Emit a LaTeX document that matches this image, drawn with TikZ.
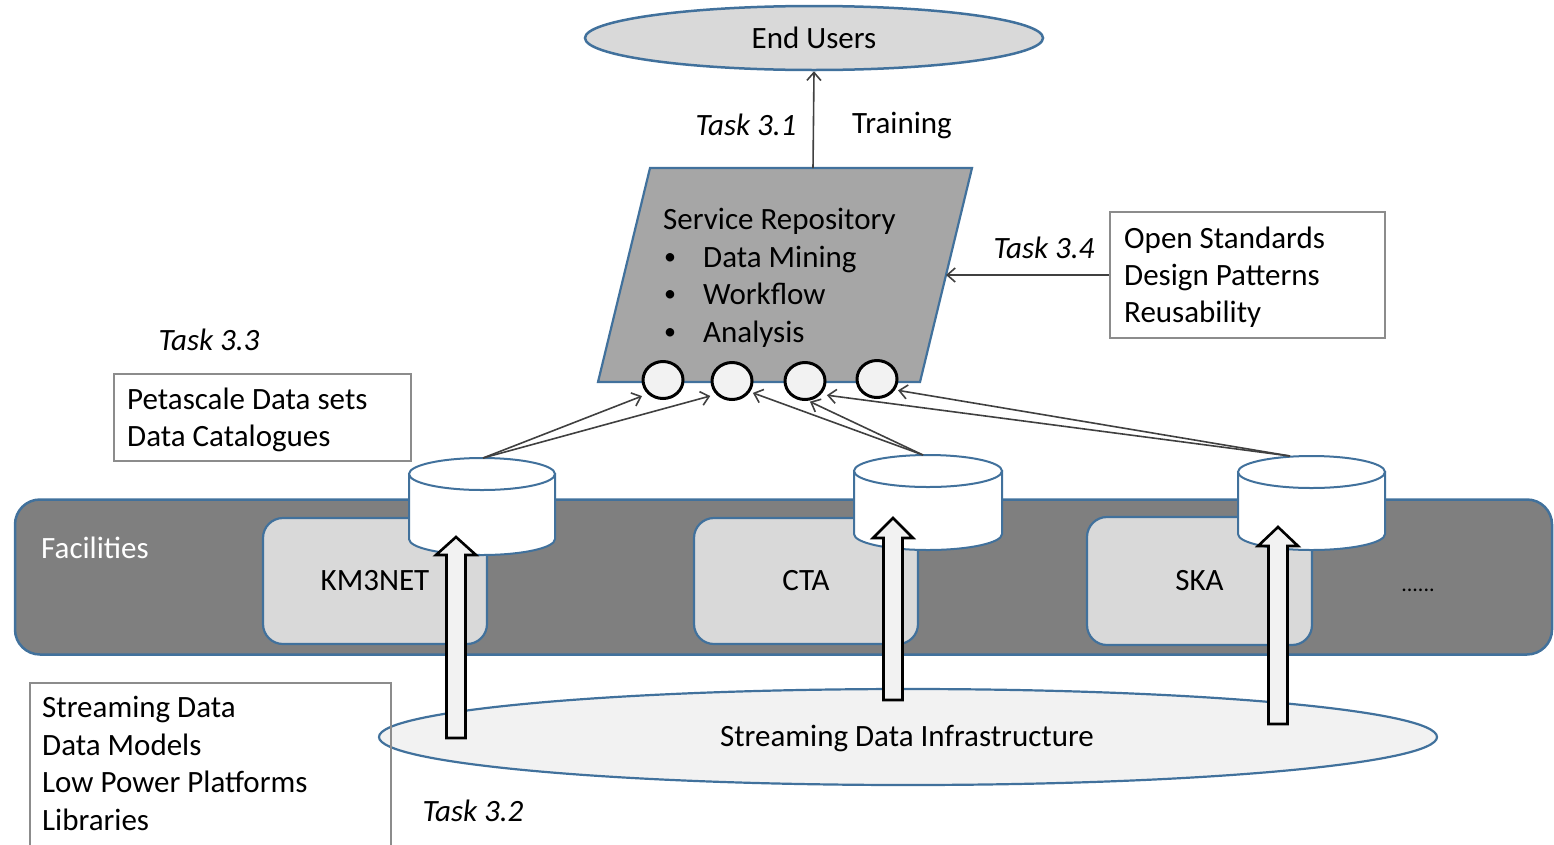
\documentclass[tikz,border=0pt]{standalone}
\usepackage{fontspec}
\setmainfont{Carlito}
\usetikzlibrary{shapes.geometric,arrows.meta}
\definecolor{bord}{RGB}{65,113,156}
\definecolor{lgray}{RGB}{217,217,217}
\definecolor{pgray}{RGB}{166,166,166}
\definecolor{bgray}{RGB}{127,127,127}
\definecolor{wgray}{RGB}{242,242,242}
\definecolor{boxline}{RGB}{140,140,140}
\definecolor{arrline}{RGB}{64,64,64}
\begin{document}
\begin{tikzpicture}[x=1pt,y=-1pt,
  font=\fontsize{31}{37}\selectfont,
  line/.style={anchor=mid west, inner sep=0pt},
  task/.style={inner sep=0pt, font=\fontsize{31}{37}\selectfont\itshape},
  bul/.style={inner sep=0pt, font=\fontsize{24}{28}\selectfont},
  thinarr/.style={draw=arrline, line width=1.6pt, -{Straight Barb[length=8pt,width=14pt]}},
  txtbox/.style={draw=boxline, line width=1.6pt, fill=white, inner sep=0pt},
  inner/.style={draw=bord, fill=lgray, line width=2.2pt, rounded corners=20pt, inner sep=0pt},
  cyl/.style={draw=bord, fill=white, line width=2pt},
  blk/.style={draw=black, fill=wgray, line width=2.6pt, line join=miter},
  port/.style={ellipse, draw=black, fill=wgray, line width=3pt, minimum width=40pt, minimum height=37pt, inner sep=0pt}
]
\useasboundingbox (0,0) rectangle (1554,844);

% Facilities band
\node[draw=bord, fill=bgray, line width=2.5pt, rounded corners=25pt, minimum width=1537pt, minimum height=155pt, inner sep=0pt] (band) at (783.5,577) {};
\node[text=white, inner sep=0pt] (fac) at (95,548) {Facilities};
\node[inner, minimum width=224pt, minimum height=126pt] (km) at (375,581) {KM3NET};
\node[inner, minimum width=224pt, minimum height=126pt] (cta) at (806,581) {CTA};
\node[inner, minimum width=225pt, minimum height=128pt] (ska) at (1199.5,581) {SKA};
\node[inner sep=0pt, font=\fontsize{22}{26}\selectfont] (dots) at (1418,590) {......};

% Streaming Data Infrastructure
\node[ellipse, draw=bord, fill=wgray, line width=2.2pt, minimum width=1058pt, minimum height=96pt, inner sep=0pt] (sdi) at (908,737) {};
\node[inner sep=0pt] (sdit) at (907,738) {Streaming Data Infrastructure};

% Cylinders
\path[cyl] (409,474) -- (409,539) arc[start angle=180, end angle=360, x radius=73pt, y radius=16pt] -- (555,474) -- cycle;
\draw[cyl] (482,474) ellipse[x radius=73pt, y radius=16pt];
\coordinate (kmtop) at (483,458);
\path[cyl] (854,471) -- (854,534) arc[start angle=180, end angle=360, x radius=74pt, y radius=16pt] -- (1002,471) -- cycle;
\draw[cyl] (928,471) ellipse[x radius=74pt, y radius=16pt];
\coordinate (ctatop) at (923,455);
\path[cyl] (1238,472) -- (1238,534) arc[start angle=180, end angle=360, x radius=73.5pt, y radius=16pt] -- (1385,472) -- cycle;
\draw[cyl] (1311.5,472) ellipse[x radius=73.5pt, y radius=16pt];
\coordinate (skatop) at (1290,456);

% Block arrows
\draw[blk] (446.5,738) -- (446.5,555) -- (436,555) -- (456,537) -- (476,555) -- (465.5,555) -- (465.5,738) -- cycle;
\draw[blk] (883.5,700) -- (883.5,538) -- (873,538) -- (893,518) -- (913,538) -- (902.5,538) -- (902.5,700) -- cycle;
\draw[blk] (1268.5,724) -- (1268.5,546) -- (1258,546) -- (1278,527) -- (1298,546) -- (1287.5,546) -- (1287.5,724) -- cycle;

% Service repository parallelogram
\draw[draw=bord, fill=pgray, line width=2.2pt] (650,168) coordinate (p1) -- (972,168) coordinate (p2) -- (920,382) coordinate (p3) -- (598,382) coordinate (p4) -- cycle;
\coordinate (ptop) at (813,168);
\coordinate (pright) at (946,275);
\node[line] (sr) at (663,227) {Service Repository};
\node[bul] (b1) at (670,259) {•};
\node[line] (dm) at (703,265) {Data Mining};
\node[bul] (b2) at (670,296) {•};
\node[line] (wf) at (703,302) {Workflow};
\node[bul] (b3) at (670,334) {•};
\node[line] (an) at (703,340) {Analysis};

% ports
\node[port] (c1) at (663,380) {};
\node[port] (c2) at (732,381) {};
\node[port] (c3) at (805,381) {};
\node[port] (c4) at (877,379) {};

% End users
\node[ellipse, draw=bord, fill=lgray, line width=2.5pt, minimum width=458pt, minimum height=64pt, inner sep=0pt] (eu) at (814,38) {End Users};
\draw[thinarr] (ptop) -- (eu.south);
\node[task] (t31) at (746,125) {Task 3.1};
\node[inner sep=0pt] (tr) at (902,125) {Training};

% Open standards box
\node[txtbox, minimum width=275pt, minimum height=126pt] (osbox) at (1247.5,275) {};
\node[line] (os1) at (1124,246) {Open Standards};
\node[line] (os2) at (1124,283) {Design Patterns};
\node[line] (os3) at (1124,320) {Reusability};
\node[task] (t34) at (1044,248) {Task 3.4};
\draw[thinarr] (osbox.west) -- (pright);

% Petascale box
\node[task] (t33) at (209,340) {Task 3.3};
\node[txtbox, minimum width=297pt, minimum height=87pt] (pbox) at (262.5,417.5) {};
\node[line] (pd1) at (127,407) {Petascale Data sets};
\node[line] (pd2) at (127,444) {Data Catalogues};

% Streaming box
\draw[draw=boxline, line width=1.6pt] (30,850) coordinate (sb1) -- (30,683) coordinate (sb2) -- (391,683) coordinate (sb3) -- (391,850) coordinate (sb4);
\node[line] (sd1) at (42,715) {Streaming Data};
\node[line] (sd2) at (42,753) {Data Models};
\node[line] (sd3) at (42,790) {Low Power Platforms};
\node[line] (sd4) at (42,828) {Libraries};
\node[task] (t32) at (473,811) {Task 3.2};

% thin arrows to ports
\draw[thinarr, shorten >=6pt] (kmtop) -- (c1.-138);
\draw[thinarr, shorten >=6pt] (kmtop) -- (c2.-140);
\draw[thinarr, shorten >=3pt] (ctatop) -- (c2.-31);
\draw[thinarr, shorten >=2pt] (ctatop) -- (c3.-81);
\draw[thinarr, shorten >=6pt] (skatop) -- (c3.-40);
\draw[thinarr, shorten >=3pt] (skatop) -- (c4.-31);
\end{tikzpicture}
\end{document}
